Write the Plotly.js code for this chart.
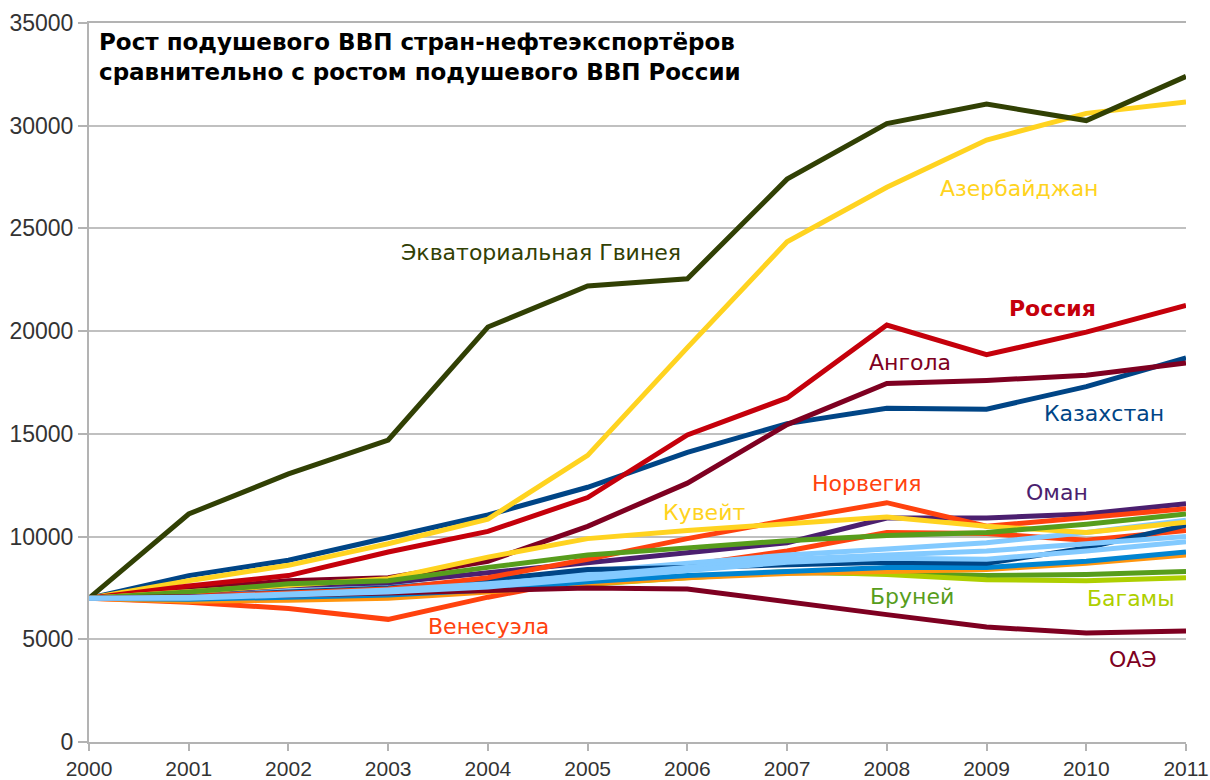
<!DOCTYPE html>
<html>
<head>
<meta charset="utf-8">
<script src="https://cdn.plot.ly/plotly-3.0.1.min.js"></script>
<style>html,body{margin:0;padding:0;background:#fff;}#chart{width:1210px;height:780px;}</style>
</head>
<body>
<div id="chart"></div>
<script>
const years = [2000, 2001, 2002, 2003, 2004, 2005, 2006, 2007, 2008, 2009, 2010, 2011];
const yTicks = [0, 5000, 10000, 15000, 20000, 25000, 30000, 35000];

const kazakhstan = [7000, 8100, 8850, 9950, 11050, 12400, 14100, 15500, 16250, 16200, 17300, 18700];
const venezuela  = [7000, 6800, 6500, 5970, 7050, 7970, 8600, 9300, 10200, 10150, 9820, 10300];
const azerbaijan = [7000, 7850, 8600, 9650, 10850, 13950, 19200, 24350, 27000, 29300, 30600, 31150];
const brunei     = [7000, 7050, 7250, 7450, 7650, 7900, 8100, 8250, 8200, 8100, 8150, 8300];
const angola     = [7000, 7400, 7850, 8000, 8800, 10500, 12600, 15450, 17450, 17600, 17850, 18450];
const lightBlue1 = [7000, 7150, 7350, 7550, 7850, 8300, 8700, 9100, 9400, 9700, 10200, 10800];
const eqGuinea   = [7000, 11100, 13050, 14700, 20200, 22200, 22550, 27400, 30100, 31050, 30250, 32400];
const bahamas    = [7000, 6950, 7050, 7150, 7350, 7700, 8000, 8300, 8150, 7900, 7850, 8000];
const oman       = [7000, 7300, 7600, 7750, 8250, 8700, 9200, 9700, 10900, 10900, 11100, 11600];
const orangeUnl  = [7000, 6850, 6900, 7000, 7300, 7700, 8000, 8200, 8300, 8400, 8700, 9100];
const russia     = [7000, 7600, 8100, 9250, 10250, 11900, 14950, 16750, 20300, 18850, 19950, 21250];
const blueUnl    = [7000, 6950, 7050, 7150, 7400, 7800, 8100, 8300, 8500, 8500, 8800, 9250];
const darkBlueUnl= [7000, 7100, 7300, 7500, 7900, 8400, 8500, 8600, 8750, 8700, 9450, 10550];
const norway     = [7000, 7100, 7250, 7450, 8000, 8900, 9900, 10800, 11650, 10500, 10900, 11350];
const kuwait     = [7000, 7300, 7650, 7950, 9000, 9900, 10300, 10650, 10950, 10500, 10200, 10700];
const greenUnl   = [7000, 7300, 7700, 7850, 8500, 9100, 9450, 9800, 10050, 10200, 10600, 11100];
const uae        = [7000, 7050, 7150, 7250, 7400, 7500, 7450, 6800, 6200, 5600, 5300, 5400];
const lightBlue2 = [7000, 7050, 7200, 7400, 7700, 8100, 8500, 8900, 9100, 9300, 9650, 10000];
const lightBlue3 = [7000, 7000, 7150, 7300, 7550, 7950, 8350, 8750, 8950, 8900, 9300, 9750];

const seriesNames = ["Казахстан","Венесуэла","Азербайджан","Бруней","Ангола","Страна 6","Экваториальная Гвинея","Багамы","Оман","Страна 10","Россия","Страна 12","Страна 13","Норвегия","Кувейт","Страна 16","ОАЭ","Страна 18","Страна 19"];
const seriesData = [kazakhstan, venezuela, azerbaijan, brunei, angola, lightBlue1, eqGuinea, bahamas, oman, orangeUnl, russia, blueUnl, darkBlueUnl, norway, kuwait, greenUnl, uae, lightBlue2, lightBlue3];
const seriesColors = ["#004586","#ff420e","#ffd320","#579d1c","#7e0021","#83caff","#314004","#aecf00","#4b1f6f","#ff950e","#c5000b","#0084d1","#004586","#ff420e","#ffd320","#579d1c","#7e0021","#83caff","#83caff"];

const labelTexts  = ["Экваториальная Гвинея","Азербайджан","<b>Россия</b>","Ангола","Казахстан","Норвегия","Кувейт","Оман","Бруней","Багамы","Венесуэла","ОАЭ"];
const labelX      = [2004.53, 2009.33, 2009.66, 2008.23, 2010.18, 2007.80, 2006.17, 2009.71, 2008.25, 2010.45, 2004.01, 2010.47];
const labelY      = [23840, 26950, 21100, 18480, 16000, 12600, 11170, 12160, 7090, 7000, 5640, 4020];
const labelColors = ["#314004","#ffd320","#c5000b","#7e0021","#004586","#ff420e","#ffd320","#4b1f6f","#579d1c","#aecf00","#ff420e","#7e0021"];

const traces = seriesData.map((d, i) => ({
  x: years, y: d, name: seriesNames[i], type: 'scatter', mode: 'lines',
  line: {color: seriesColors[i], width: 5}, hoverinfo: 'x+y+name'
}));

const annotations = labelTexts.map((t, i) => ({
  x: labelX[i], y: labelY[i], xref: 'x', yref: 'y', text: t, showarrow: false,
  font: {family: 'DejaVu Sans', size: 22, color: labelColors[i]},
  xanchor: 'center', yanchor: 'middle'
}));
annotations.push({
  xref: 'paper', yref: 'paper', x: 0.0073, y: 0.994, xanchor: 'left', yanchor: 'top', align: 'left',
  showarrow: false,
  text: '<b>Рост подушевого ВВП стран-нефтеэкспортёров<br>сравнительно с ростом подушевого ВВП России</b>',
  font: {family: 'DejaVu Sans', size: 23, color: '#000'}
});

const layout = {
  width: 1210, height: 780,
  margin: {l: 89, r: 24, t: 23, b: 38},
  paper_bgcolor: '#fff', plot_bgcolor: '#fff',
  showlegend: false,
  font: {family: 'Liberation Sans, Arial, sans-serif', size: 22, color: '#333'},
  xaxis: {
    range: [2000, 2011], tickmode: 'array', tickvals: years, ticktext: years.map(String),
    showgrid: false, zeroline: false, showline: true, linecolor: '#b3b3b3', linewidth: 2,
    ticks: 'outside', ticklen: 7, tickwidth: 2, tickcolor: '#b3b3b3', mirror: true,
    ticklabeloverflow: 'allow',
    tickfont: {size: 21, color: '#333'}
  },
  yaxis: {
    range: [0, 35000], tickmode: 'array', tickvals: yTicks, ticktext: yTicks.map(String),
    showgrid: true, gridcolor: '#c0c0c0', gridwidth: 2, zeroline: false,
    showline: true, linecolor: '#b3b3b3', linewidth: 2,
    ticks: 'outside', ticklen: 9, tickwidth: 2, tickcolor: '#b3b3b3',
    tickfont: {size: 23, color: '#333'}
  },
  annotations: annotations
};

Plotly.newPlot('chart', traces, layout, {displayModeBar: false, staticPlot: true});
</script>
</body>
</html>
